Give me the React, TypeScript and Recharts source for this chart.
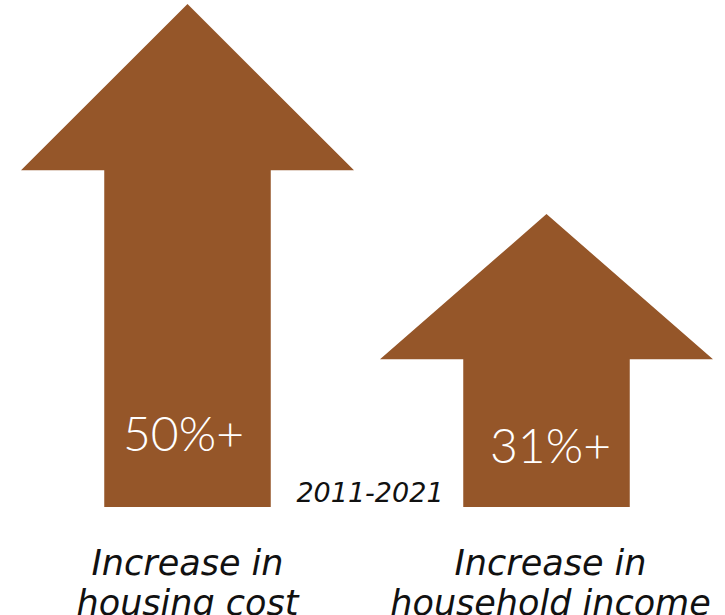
import React from 'react';
import { BarChart, Bar, XAxis, YAxis, LabelList } from 'recharts';

const categories = ['Increase in housing cost', 'Increase in household income'];
const categoryLines = [
  ['Increase in', 'housing cost'],
  ['Increase in', 'household income'],
];
const increasePct = [50, 31];
const valueLabels = ['50%+', '31%+'];
const periodLabel = '2011-2021';

const data = categories.map((c, i) => ({
  name: c,
  value: increasePct[i],
  label: valueLabels[i],
}));

const BROWN = '#955629';
const FONT = 'Lato, "Open Sans", sans-serif';
const TEXT_FONT = '"DejaVu Sans", sans-serif';

const ArrowShape = (props: any) => {
  const { x, y, width, height } = props;
  const cx = x + width / 2;
  const shaftHalf = width / 4;
  const headH = 116 + 0.1 * height;
  const pts = [
    [cx, y],
    [x + width, y + headH],
    [cx + shaftHalf, y + headH],
    [cx + shaftHalf, y + height],
    [cx - shaftHalf, y + height],
    [cx - shaftHalf, y + headH],
    [x, y + headH],
  ]
    .map((p) => p.join(','))
    .join(' ');
  return <polygon points={pts} fill={BROWN} />;
};

const CategoryTick = (props: any) => {
  const { x, y, index } = props;
  const lines = categoryLines[index] || [];
  const shift = index === 1 ? 4 : 0;
  return (
    <g>
      {lines.map((l, i) => (
        <text
          key={i}
          x={x + shift}
          y={y + 60 + i * 40}
          textAnchor="middle"
          fontFamily={TEXT_FONT}
          fontStyle="italic"
          fontSize={35}
          fill="#111"
        >
          {l}
        </text>
      ))}
    </g>
  );
};

const ValueLabel = (props: any) => {
  const { x, y, width, height, index, value } = props;
  const off = index === 0 ? 56 : 44;
  const shift = index === 0 ? -4 : 4;
  return (
    <text
      x={x + width / 2 + shift}
      y={y + height - off}
      textAnchor="middle"
      fontFamily={FONT}
      fontWeight={300}
      fontSize={48}
      fill="#ffffff"
    >
      {value}
    </text>
  );
};

const PeriodLabel = (props: any) => {
  const vb = props.viewBox || {};
  return (
    <text
      x={vb.x + vb.width / 2 + 3}
      y={vb.y - 5}
      textAnchor="middle"
      fontFamily={TEXT_FONT}
      fontStyle="italic"
      fontSize={27}
      fill="#111"
    >
      {periodLabel}
    </text>
  );
};

export default function App() {
  return (
    <div
      style={{
        position: 'absolute',
        left: 0,
        top: 0,
        width: 725,
        height: 615,
        overflow: 'hidden',
        background: '#fff',
      }}
    >
      <BarChart
        width={780}
        height={615}
        data={data}
        margin={{ top: 4, right: 54, left: 8, bottom: 78 }}
      >
        <XAxis
          dataKey="name"
          height={30}
          axisLine={false}
          tickLine={false}
          interval={0}
          tick={<CategoryTick />}
          label={<PeriodLabel />}
        />
        <YAxis hide width={0} domain={[4.5, 50]} />
        <Bar
          dataKey="value"
          barSize={333}
          shape={<ArrowShape />}
          isAnimationActive={false}
        >
          <LabelList dataKey="label" content={<ValueLabel />} />
        </Bar>
      </BarChart>
    </div>
  );
}
